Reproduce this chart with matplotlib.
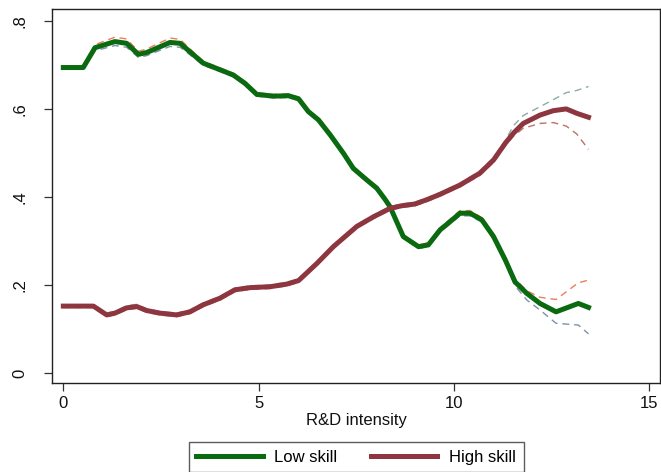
import matplotlib
matplotlib.use("Agg")
import matplotlib.pyplot as plt

plt.rcParams['font.family'] = ['Liberation Sans', 'DejaVu Sans']

# ---- data ----
low_x = [0, 0.51, 0.81, 1.32, 1.62, 1.92, 2.13, 2.73, 2.99, 3.33, 3.58, 4.01, 4.35, 4.65, 4.95, 5.38,
         5.76, 6.02, 6.27, 6.53, 6.83, 7.17, 7.42, 7.76, 8.02, 8.23, 8.36, 8.70, 9.09, 9.34, 9.64, 9.90,
         10.15, 10.41, 10.71, 11.01, 11.31, 11.56, 11.86, 12.20, 12.61, 13.18, 13.44]
low_y = [0.694, 0.694, 0.739, 0.753, 0.749, 0.724, 0.728, 0.751, 0.749, 0.723, 0.704, 0.689, 0.677, 0.658,
         0.633, 0.629, 0.630, 0.623, 0.594, 0.575, 0.541, 0.499, 0.465, 0.439, 0.420, 0.395, 0.378, 0.310,
         0.287, 0.291, 0.325, 0.344, 0.363, 0.363, 0.348, 0.310, 0.257, 0.207, 0.181, 0.158, 0.139, 0.158, 0.149]
low_hi = [0.696, 0.696, 0.746, 0.763, 0.759, 0.731, 0.736, 0.761, 0.758, 0.729, 0.708, 0.693, 0.681, 0.662,
          0.637, 0.633, 0.634, 0.627, 0.598, 0.579, 0.545, 0.503, 0.469, 0.443, 0.424, 0.399, 0.382, 0.314,
          0.291, 0.296, 0.330, 0.350, 0.369, 0.369, 0.353, 0.315, 0.263, 0.214, 0.187, 0.172, 0.167, 0.205, 0.211]
low_lo = [0.691, 0.691, 0.732, 0.744, 0.740, 0.717, 0.721, 0.742, 0.740, 0.717, 0.699, 0.685, 0.673, 0.654,
          0.629, 0.625, 0.626, 0.619, 0.590, 0.571, 0.537, 0.495, 0.461, 0.435, 0.416, 0.391, 0.374, 0.306,
          0.283, 0.287, 0.320, 0.339, 0.357, 0.357, 0.343, 0.304, 0.250, 0.198, 0.166, 0.143, 0.113, 0.109, 0.089]

high_x = [0, 0.77, 1.11, 1.32, 1.62, 1.88, 2.13, 2.47, 2.90, 3.24, 3.58, 4.01, 4.39, 4.78, 5.29, 5.72,
          6.02, 6.49, 6.91, 7.51, 7.94, 8.36, 8.66, 9.00, 9.34, 9.64, 10.15, 10.66, 11.01, 11.31, 11.52,
          11.77, 12.20, 12.54, 12.87, 13.14, 13.44]
high_y = [0.152, 0.152, 0.132, 0.136, 0.148, 0.151, 0.142, 0.136, 0.132, 0.139, 0.155, 0.170, 0.189, 0.194,
          0.196, 0.202, 0.210, 0.249, 0.287, 0.333, 0.355, 0.374, 0.380, 0.384, 0.395, 0.406, 0.427, 0.454,
          0.484, 0.522, 0.545, 0.567, 0.586, 0.596, 0.600, 0.590, 0.581]
high_hi = [0.155, 0.155, 0.136, 0.140, 0.153, 0.156, 0.146, 0.140, 0.136, 0.143, 0.159, 0.174, 0.193, 0.198,
           0.200, 0.206, 0.214, 0.253, 0.291, 0.337, 0.359, 0.378, 0.384, 0.388, 0.399, 0.410, 0.431, 0.459,
           0.489, 0.528, 0.562, 0.585, 0.605, 0.621, 0.637, 0.642, 0.651]
high_lo = [0.149, 0.149, 0.128, 0.132, 0.144, 0.147, 0.138, 0.132, 0.128, 0.135, 0.151, 0.166, 0.185, 0.190,
           0.192, 0.198, 0.206, 0.245, 0.283, 0.329, 0.351, 0.370, 0.376, 0.380, 0.391, 0.402, 0.423, 0.449,
           0.479, 0.516, 0.538, 0.556, 0.567, 0.569, 0.561, 0.543, 0.508]

x_ticks = [0, 5, 10, 15]
y_ticks = [0, 0.2, 0.4, 0.6, 0.8]
y_ticklabels = ['0', '.2', '.4', '.6', '.8']
series_labels = ['Low skill', 'High skill']

# ---- styling ----
GREEN = '#0a6a10'
MAROON = '#8e3640'

fig = plt.figure(figsize=(6.61, 4.72), dpi=100)
ax = fig.add_axes([52/661, 1-383/472, (660-52)/661, (383-9)/472])

ax.plot(low_x, low_hi, color='#f07c5c', lw=1.0, dashes=(5, 3.5), zorder=2)
ax.plot(low_x, low_lo, color='#7f90aa', lw=1.0, dashes=(5, 3.5), zorder=2)
ax.plot(high_x, high_hi, color='#8fab9f', lw=1.0, dashes=(5, 3.5), zorder=2)
ax.plot(high_x, high_lo, color='#bb7262', lw=1.0, dashes=(5, 3.5), zorder=2)

l1, = ax.plot(low_x, low_y, color=GREEN, lw=3.6, solid_joinstyle='round', zorder=3, label=series_labels[0])
l2, = ax.plot(high_x, high_y, color=MAROON, lw=3.6, solid_joinstyle='round', zorder=3, label=series_labels[1])

ax.set_xlim(-0.29, 15.27)
ax.set_ylim(-0.0227, 0.827)
ax.set_xticks(x_ticks)
ax.set_yticks(y_ticks)
ax.set_yticklabels(y_ticklabels, rotation=90, va='center')
ax.tick_params(axis='both', direction='out', length=5.5, width=0.9, color='#333333',
               labelsize=12, labelcolor='#111111', pad=4)
ax.tick_params(axis='y', pad=12)
for s in ax.spines.values():
    s.set_color('#222222')
    s.set_linewidth(1.0)

ax.set_xlabel('R&D intensity', fontsize=12, color='#111111', labelpad=1)

leg = fig.legend(handles=[l1, l2], labels=series_labels, loc='upper center',
                 bbox_to_anchor=(356/661, 1-434/472), ncol=2, frameon=True, fancybox=False,
                 fontsize=12, handlelength=4.0, handletextpad=0.7, columnspacing=2.0,
                 borderpad=0.45, edgecolor='#333333')
leg.get_frame().set_linewidth(1.0)

fig.savefig('out.png', dpi=100)
